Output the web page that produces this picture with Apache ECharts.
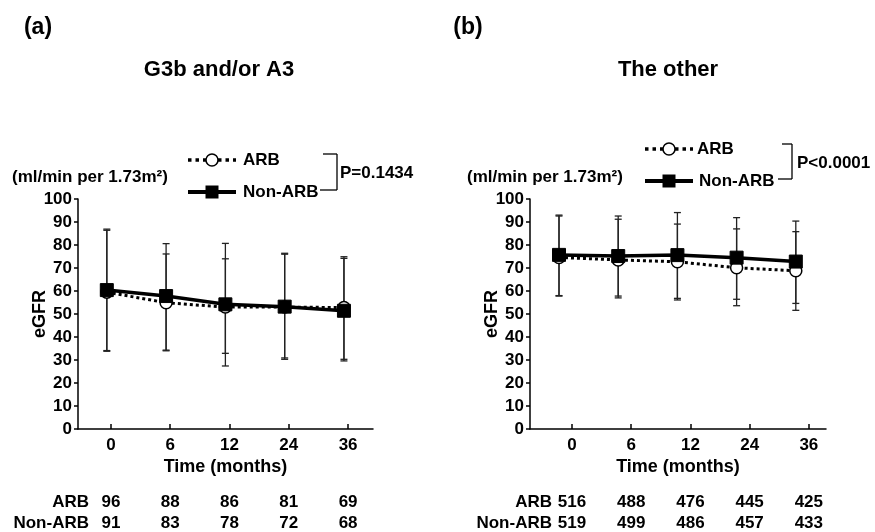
<!DOCTYPE html>
<html>
<head>
<meta charset="utf-8">
<script src="https://cdn.jsdelivr.net/npm/echarts@6/dist/echarts.min.js"></script>
<style>
html,body{margin:0;padding:0;background:#fff;}
#chart{width:875px;height:532px;}
</style>
</head>
<body>
<div id="chart"></div>
<script>
// ---- data ----
const timeLabels = ['0', '6', '12', '24', '36'];

// (a) G3b and/or A3
const aARB = [59.5, 54.9, 53.0, 53.0, 52.8];
const aARBUpper = [86.4, 76.1, 74.0, 76.0, 74.2];
const aARBLower = [34.1, 34.0, 32.9, 30.3, 30.3];
const aNon = [60.4, 57.8, 54.2, 53.2, 51.4];
const aNonUpper = [86.9, 80.6, 80.7, 76.4, 74.9];
const aNonLower = [33.8, 34.3, 27.4, 30.9, 29.6];
const aAtRiskARB = [96, 88, 86, 81, 69];
const aAtRiskNon = [91, 83, 78, 72, 68];

// (b) The other
const bARB = [74.6, 73.5, 72.7, 70.1, 68.8];
const bARBUpper = [92.6, 91.2, 89.1, 87.0, 85.8];
const bARBLower = [57.8, 57.0, 56.1, 53.6, 51.6];
const bNon = [75.7, 75.2, 75.6, 74.5, 72.8];
const bNonUpper = [93.0, 92.6, 94.1, 91.9, 90.4];
const bNonLower = [58.0, 57.8, 56.8, 56.4, 54.6];
const bAtRiskARB = [516, 488, 476, 445, 425];
const bAtRiskNon = [519, 499, 486, 457, 433];

// ---- style ----
const FONT = '"Liberation Sans", Arial, sans-serif';
const aShift = -0.07, bShift = -0.22;   // horizontal placement of points relative to ticks
const tickIdx = timeLabels.map((_, i) => i);

function pts(vals, shift) { return vals.map((v, i) => [i + shift, v]); }
function errs(lo, hi, shift) { return lo.map((l, i) => [i + shift, l, hi[i]]); }

function renderErr(params, api) {
  const x = api.value(0), lo = api.value(1), hi = api.value(2);
  const a = api.coord([x, lo]), b = api.coord([x, hi]);
  const w = 3.5;
  const st = { stroke: '#222', lineWidth: 1.3 };
  return { type: 'group', children: [
    { type: 'line', shape: { x1: a[0], y1: a[1], x2: b[0], y2: b[1] }, style: st },
    { type: 'line', shape: { x1: a[0] - w, y1: a[1], x2: a[0] + w, y2: a[1] }, style: st },
    { type: 'line', shape: { x1: b[0] - w, y1: b[1], x2: b[0] + w, y2: b[1] }, style: st }
  ]};
}

function mainX(gi, min, max) {
  return {
    type: 'value', gridIndex: gi, min: min, max: max, position: 'bottom',
    splitLine: { show: false },
    axisLine: { show: true, onZero: false, lineStyle: { color: '#000', width: 1.5 } },
    axisTick: { show: true, inside: true, length: 5, customValues: tickIdx, lineStyle: { color: '#000', width: 1.5 } },
    axisLabel: { customValues: tickIdx, margin: 8, color: '#000', fontFamily: FONT, fontWeight: 'bold', fontSize: 17,
      formatter: v => timeLabels[Math.round(v)] },
    name: 'Time (months)', nameLocation: 'middle', nameGap: 29, nameMoveOverlap: false,
    nameTextStyle: { color: '#000', fontFamily: FONT, fontWeight: 'bold', fontSize: 18 }
  };
}
function riskX(gi, min, max, arr, offset) {
  return {
    type: 'value', gridIndex: gi, min: min, max: max, position: 'bottom', offset: offset,
    splitLine: { show: false }, axisLine: { show: false, onZero: false }, axisTick: { show: false },
    axisLabel: { customValues: tickIdx, margin: 2, color: '#000', fontFamily: FONT, fontWeight: 'bold', fontSize: 17,
      formatter: v => String(arr[Math.round(v)]) }
  };
}
function mainY(gi) {
  return {
    type: 'value', gridIndex: gi, min: 0, max: 100, interval: 10, position: 'left',
    splitLine: { show: false },
    axisLine: { show: true, onZero: false, lineStyle: { color: '#000', width: 1.5 } },
    axisTick: { show: true, length: 4, lineStyle: { color: '#000', width: 1.5 } },
    axisLabel: { margin: 6, color: '#000', fontFamily: FONT, fontWeight: 'bold', fontSize: 17 },
    name: 'eGFR', nameLocation: 'middle', nameRotate: 90, nameGap: 29, nameMoveOverlap: false,
    nameTextStyle: { color: '#000', fontFamily: FONT, fontWeight: 'bold', fontSize: 18 }
  };
}

function seriesFor(xi, yi, arb, arbLo, arbHi, non, nonLo, nonHi, shift) {
  return [
    { type: 'custom', xAxisIndex: xi, yAxisIndex: yi, renderItem: renderErr, encode: { x: 0, y: [1, 2] },
      data: errs(arbLo, arbHi, shift), z: 1, silent: true },
    { type: 'custom', xAxisIndex: xi, yAxisIndex: yi, renderItem: renderErr, encode: { x: 0, y: [1, 2] },
      data: errs(nonLo, nonHi, shift), z: 1, silent: true },
    { type: 'line', name: 'ARB', xAxisIndex: xi, yAxisIndex: yi, data: pts(arb, shift), z: 3,
      symbol: 'circle', symbolSize: 12,
      itemStyle: { color: '#fff', borderColor: '#000', borderWidth: 1.5 },
      lineStyle: { color: '#000', width: 3, type: [3, 3] }, animation: false },
    { type: 'line', name: 'Non-ARB', xAxisIndex: xi, yAxisIndex: yi, data: pts(non, shift), z: 4,
      symbol: 'rect', symbolSize: 13,
      itemStyle: { color: '#000', borderColor: '#000', borderWidth: 1 },
      lineStyle: { color: '#000', width: 3.5 }, animation: false }
  ];
}

function txt(x, y, s, size, align) {
  return { type: 'text', x: x, y: y, style: { text: s, fill: '#000', font: 'bold ' + size + 'px ' + FONT,
    align: align || 'left', verticalAlign: 'middle' } };
}
function ln(x1, y1, x2, y2, w, dash) {
  return { type: 'line', shape: { x1, y1, x2, y2 }, style: { stroke: '#000', lineWidth: w || 1.3, lineDash: dash || null } };
}
function legend(x1, x2, cx, yA, yN, tA, tN) {
  return [
    ln(x1, yA, x2, yA, 3.5, [3.5, 4]),
    { type: 'circle', shape: { cx: cx, cy: yA, r: 6 }, style: { fill: '#fff', stroke: '#000', lineWidth: 1.5 } },
    ln(x1, yN, x2, yN, 4),
    { type: 'rect', shape: { x: cx - 6.5, y: yN - 6.5, width: 13, height: 13 }, style: { fill: '#000' } },
    txt(tA, yA, 'ARB', 17), txt(tN, yN, 'Non-ARB', 17)
  ];
}

const chart = echarts.init(document.getElementById('chart'), null, { renderer: 'canvas' });
const option = {
  animation: false,
  backgroundColor: '#fff',
  grid: [
    { left: 78, top: 199, width: 295, height: 230, containLabel: false, outerBoundsMode: 'none' },
    { left: 530, top: 199, width: 296, height: 230, containLabel: false, outerBoundsMode: 'none' }
  ],
  xAxis: [
    mainX(0, -0.556, 4.42), mainX(1, -0.71, 4.29),
    riskX(0, -0.556, 4.42, aAtRiskARB, 63), riskX(0, -0.556, 4.42, aAtRiskNon, 84),
    riskX(1, -0.71, 4.29, bAtRiskARB, 63), riskX(1, -0.71, 4.29, bAtRiskNon, 84)
  ],
  yAxis: [mainY(0), mainY(1)],
  series: [].concat(
    seriesFor(0, 0, aARB, aARBLower, aARBUpper, aNon, aNonLower, aNonUpper, aShift),
    seriesFor(1, 1, bARB, bARBLower, bARBUpper, bNon, bNonLower, bNonUpper, bShift)
  ),
  graphic: [].concat(
    [
      txt(38, 28, '(a)', 23, 'center'),
      txt(468, 28, '(b)', 23, 'center'),
      txt(219, 70, 'G3b and/or A3', 22, 'center'),
      txt(668, 70, 'The other', 22, 'center'),
      txt(12, 177, '(ml/min per 1.73m²)', 17),
      txt(467, 177, '(ml/min per 1.73m²)', 17),
      txt(89, 502, 'ARB', 17, 'right'),
      txt(89, 523, 'Non-ARB', 17, 'right'),
      txt(552, 502, 'ARB', 17, 'right'),
      txt(552, 523, 'Non-ARB', 17, 'right'),
      // brackets
      ln(323, 154, 337, 154), ln(337, 154, 337, 190), ln(320, 190, 337, 190),
      txt(340, 173, 'P=0.1434', 17),
      ln(782, 144, 792, 144), ln(792, 144, 792, 179), ln(778, 179, 792, 179),
      txt(797, 163, 'P<0.0001', 17)
    ],
    legend(188, 236, 212, 160, 192, 243, 243),
    legend(645, 693, 669, 149, 181, 697, 699)
  )
};
chart.setOption(option);
</script>
</body>
</html>
